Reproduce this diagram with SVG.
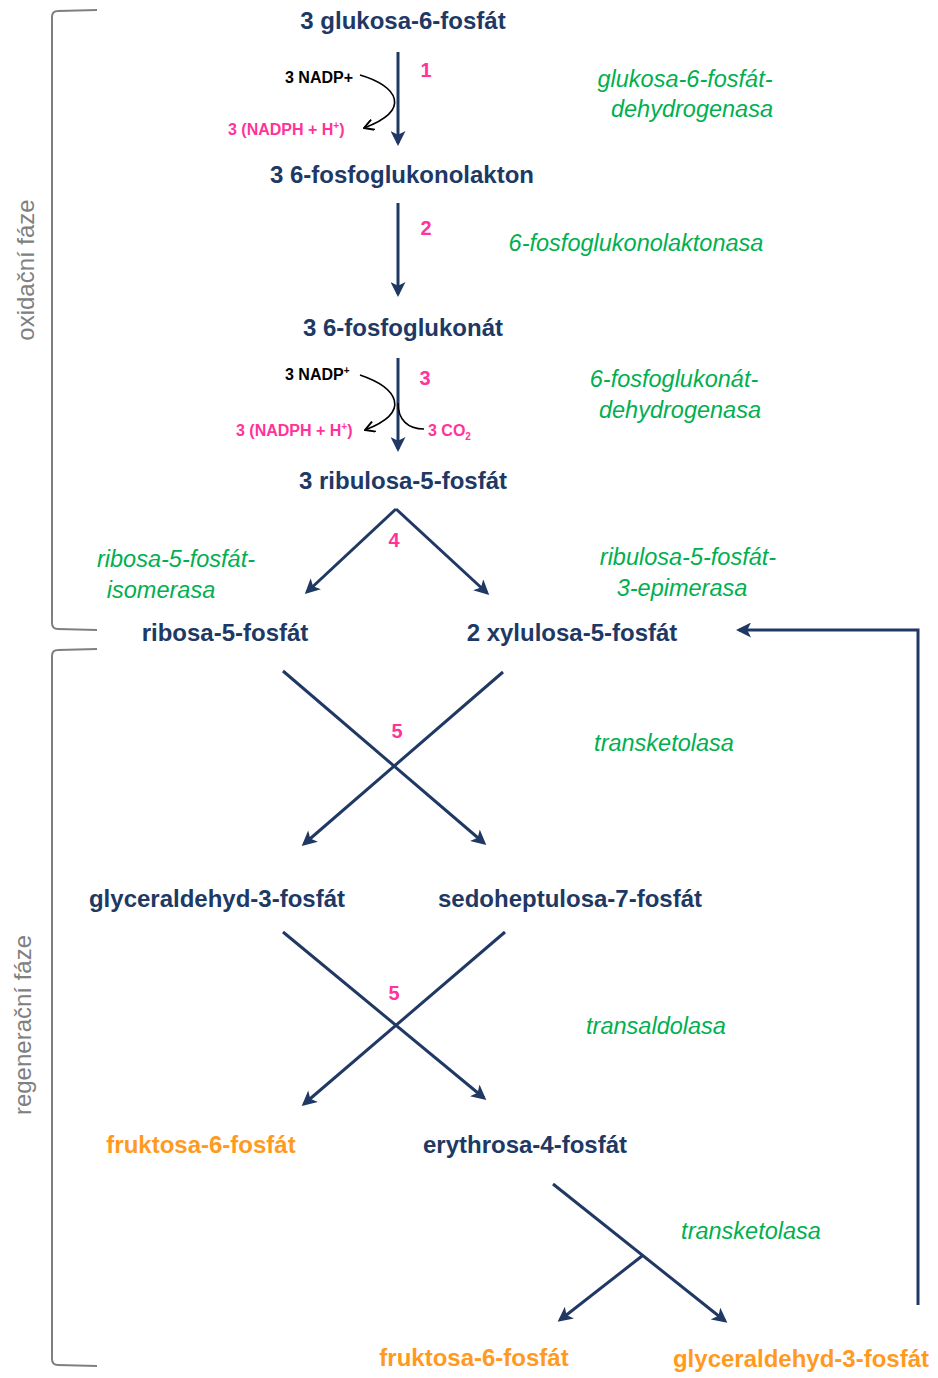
<svg xmlns="http://www.w3.org/2000/svg" width="938" height="1378" viewBox="0 0 938 1378">
<style>
.m{font-family:"Liberation Sans",Arial,sans-serif;font-weight:bold;font-size:24px;fill:#203864;text-anchor:middle}
.o{fill:#ff9a1f}
.e{font-family:"Liberation Sans",Arial,sans-serif;font-style:italic;font-size:23.5px;fill:#00b050;text-anchor:middle}
.n{font-family:"Liberation Sans",Arial,sans-serif;font-weight:bold;font-size:20px;fill:#ff3399;text-anchor:middle}
.s{font-family:"Liberation Sans",Arial,sans-serif;font-weight:bold;font-size:16px;fill:#000}
.sp{fill:#ff3399}
.ph{font-family:"Liberation Sans",Arial,sans-serif;font-size:24px;fill:#808080;text-anchor:middle}
.a{stroke:#203864;stroke-width:3;fill:none;marker-end:url(#ah)}
.c{stroke:#000;stroke-width:1.6;fill:none;marker-end:url(#ov)}
.b{stroke:#7f7f7f;stroke-width:2;fill:none}
</style>
<defs>
<marker id="ah" viewBox="0 0 10 10" refX="8" refY="5" markerWidth="16" markerHeight="15" markerUnits="userSpaceOnUse" orient="auto">
<path d="M0,0 L10,5 L0,10 L2.5,5 z" fill="#203864"/>
</marker>
<marker id="ov" viewBox="0 0 10 10" refX="9" refY="5" markerWidth="12" markerHeight="12" markerUnits="userSpaceOnUse" orient="auto">
<path d="M1,0.5 L9,5 L1,9.5" fill="none" stroke="#000" stroke-width="1.6"/>
</marker>
</defs>

<g id="brackets">
<path class="b" d="M97,10 L58,11 Q52,11 52,17 L52,623 Q52,629 58,629 L97,630"/>
<path class="b" d="M97,649 L58,650 Q52,650 52,656 L52,1359 Q52,1365 58,1365 L97,1366"/>
<text class="ph" transform="translate(34,270) rotate(-90)">oxidační fáze</text>
<text class="ph" transform="translate(31,1025) rotate(-90)">regenerační fáze</text>
</g>

<g id="connectors">
<line class="a" x1="398" y1="52" x2="398" y2="143"/>
<line class="a" x1="398" y1="203" x2="398" y2="294"/>
<line class="a" x1="398" y1="358" x2="398" y2="449"/>
<line class="a" x1="396" y1="509" x2="307" y2="592"/>
<line class="a" x1="396" y1="509" x2="487" y2="593"/>
<line class="a" x1="283" y1="671" x2="484" y2="843"/>
<line class="a" x1="503" y1="672" x2="304" y2="844"/>
<line class="a" x1="283" y1="932" x2="484" y2="1098"/>
<line class="a" x1="505" y1="932" x2="304" y2="1104"/>
<line class="a" x1="553" y1="1184" x2="725" y2="1321"/>
<line class="a" x1="642" y1="1256" x2="560" y2="1320"/>
<polyline class="a" points="918,1305 918,630 739,630"/>
<path class="c" d="M360,75 C398,86 412,110 364,128"/>
<path class="c" d="M360,375 C398,388 412,412 365,430"/>
<path stroke="#000" stroke-width="1.6" fill="none" d="M398,403 C398,420 408,429 424,429"/>
</g>

<g id="n-g6p"><text class="m" x="403" y="29">3 glukosa-6-fosfát</text></g>
<g id="n-6pgl"><text class="m" x="402" y="183">3 6-fosfoglukonolakton</text></g>
<g id="n-6pg"><text class="m" x="403" y="336">3 6-fosfoglukonát</text></g>
<g id="n-ru5p"><text class="m" x="403" y="489">3 ribulosa-5-fosfát</text></g>
<g id="n-r5p"><text class="m" x="225" y="641">ribosa-5-fosfát</text></g>
<g id="n-xu5p"><text class="m" x="572" y="641">2 xylulosa-5-fosfát</text></g>
<g id="n-gap1"><text class="m" x="217" y="907">glyceraldehyd-3-fosfát</text></g>
<g id="n-s7p"><text class="m" x="570" y="907">sedoheptulosa-7-fosfát</text></g>
<g id="n-f6p1"><text class="m o" x="201" y="1153">fruktosa-6-fosfát</text></g>
<g id="n-e4p"><text class="m" x="525" y="1153">erythrosa-4-fosfát</text></g>
<g id="n-f6p2"><text class="m o" x="474" y="1366">fruktosa-6-fosfát</text></g>
<g id="n-gap2"><text class="m o" x="801" y="1367">glyceraldehyd-3-fosfát</text></g>

<g id="enzymes">
<text class="e" x="685" y="87">glukosa-6-fosfát-</text>
<text class="e" x="692" y="117">dehydrogenasa</text>
<text class="e" x="636" y="251">6-fosfoglukonolaktonasa</text>
<text class="e" x="674" y="387">6-fosfoglukonát-</text>
<text class="e" x="680" y="418">dehydrogenasa</text>
<text class="e" x="176" y="567">ribosa-5-fosfát-</text>
<text class="e" x="161" y="598">isomerasa</text>
<text class="e" x="688" y="565">ribulosa-5-fosfát-</text>
<text class="e" x="682" y="596">3-epimerasa</text>
<text class="e" x="664" y="751">transketolasa</text>
<text class="e" x="656" y="1034">transaldolasa</text>
<text class="e" x="751" y="1239">transketolasa</text>
</g>

<g id="steps">
<text class="n" x="426" y="77">1</text>
<text class="n" x="426" y="235">2</text>
<text class="n" x="425" y="385">3</text>
<text class="n" x="394" y="547">4</text>
<text class="n" x="397" y="738">5</text>
<text class="n" x="394" y="1000">5</text>
</g>

<g id="cofactors">
<text class="s" x="285" y="83">3 NADP+</text>
<text class="s sp" x="228" y="135">3 (NADPH + H<tspan font-size="10" dy="-6">+</tspan><tspan dy="6">)</tspan></text>
<text class="s" x="285" y="380">3 NADP<tspan font-size="10" dy="-6">+</tspan></text>
<text class="s sp" x="236" y="436">3 (NADPH + H<tspan font-size="10" dy="-6">+</tspan><tspan dy="6">)</tspan></text>
<text class="s sp" x="428" y="436">3 CO<tspan font-size="10" dy="4">2</tspan></text>
</g>
</svg>
